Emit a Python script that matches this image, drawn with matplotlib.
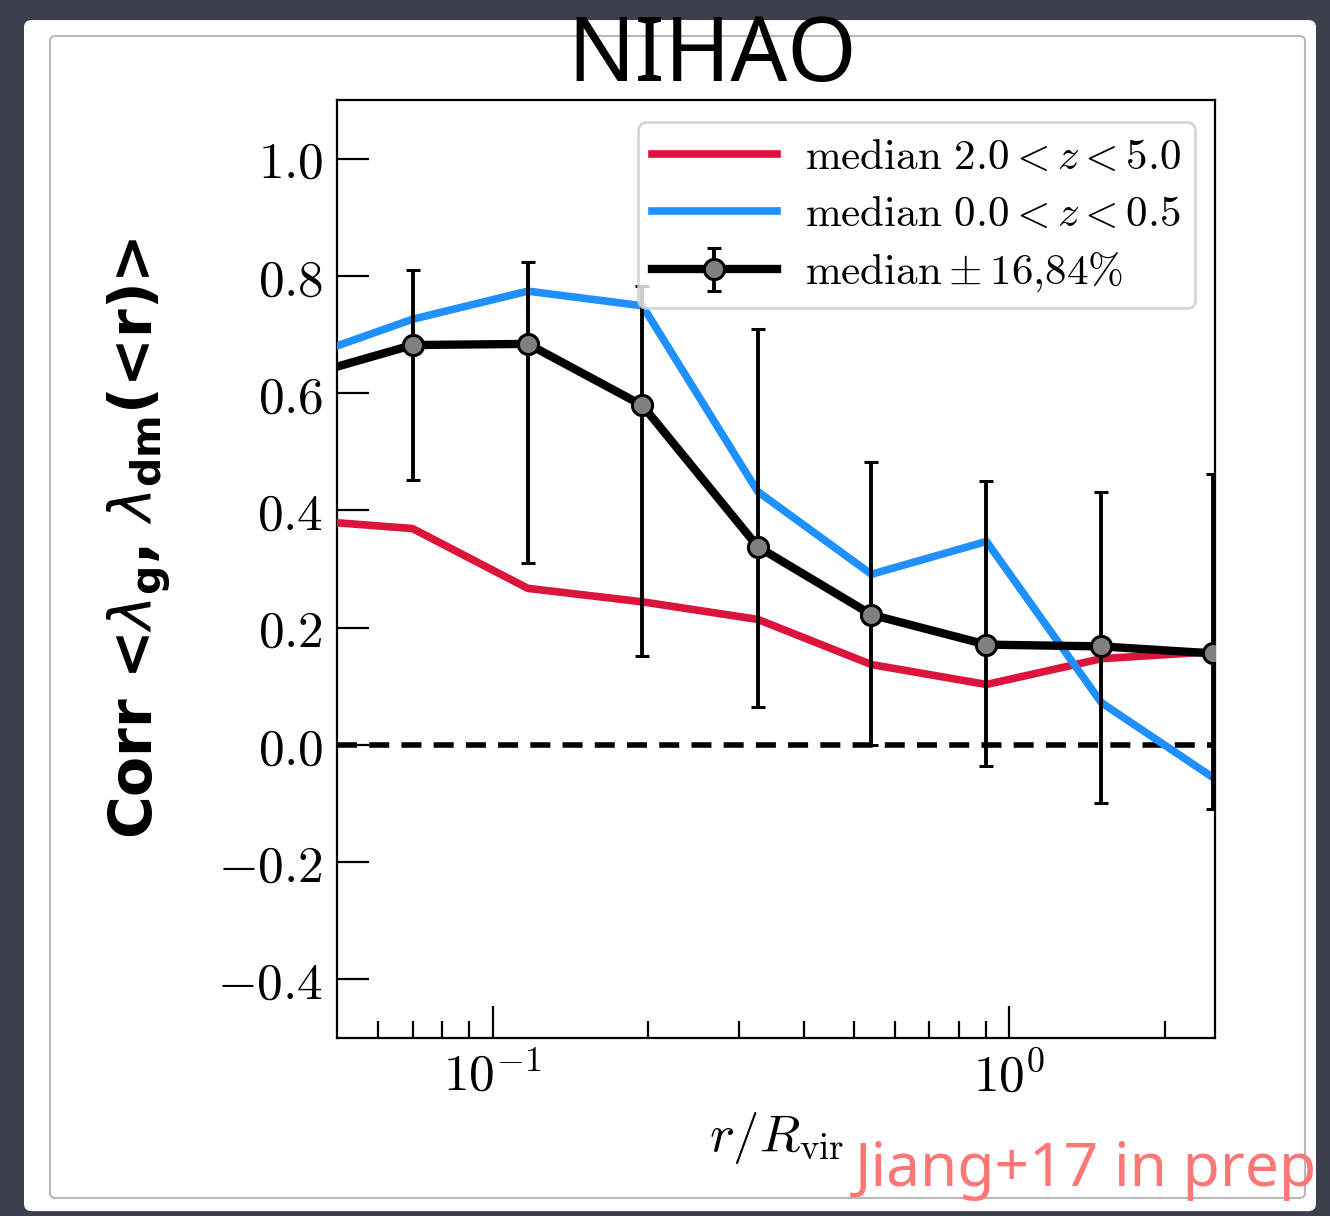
import math

import matplotlib
matplotlib.use("Agg")
import matplotlib.pyplot as plt
from matplotlib.patches import FancyBboxPatch
from matplotlib.ticker import FixedLocator, FuncFormatter, NullFormatter

plt.rcParams["mathtext.fontset"] = "cm"
plt.rcParams["font.family"] = ["DejaVu Sans"]

# ---------------------------------------------------------------------------
# data (first bin sits just left of the axis)
# ---------------------------------------------------------------------------
r_bins = [0.042, 0.070, 0.117, 0.195, 0.326, 0.541, 0.903, 1.507, 2.48]

corr_hiz = [0.384, 0.369, 0.267, 0.244, 0.214, 0.137, 0.103, 0.147, 0.159]
corr_lowz = [0.657, 0.726, 0.774, 0.749, 0.432, 0.291, 0.347, 0.072, -0.056]

corr_med = [0.626, 0.682, 0.684, 0.579, 0.338, 0.222, 0.171, 0.168, 0.156]
corr_p84 = [0.80, 0.810, 0.824, 0.783, 0.709, 0.482, 0.450, 0.432, 0.462]
corr_p16 = [0.40, 0.451, 0.311, 0.152, 0.065, 0.000, -0.036, -0.099, -0.109]

y_ticks = [-0.4, -0.2, 0.0, 0.2, 0.4, 0.6, 0.8, 1.0]
x_major = [0.1, 1.0]
x_minor = [0.06, 0.07, 0.08, 0.09, 0.2, 0.3, 0.4, 0.5, 0.6, 0.7, 0.8, 0.9, 2.0]

W, H = 1330, 1216
fig = plt.figure(figsize=(W / 100, H / 100), dpi=100)
fig.patch.set_facecolor("#3c404c")

# torn-paper backdrop
paper = FancyBboxPatch((24 / W, 0.004), 1292 / W, 1 - 0.004 - 20 / H,
                       boxstyle="round,pad=0,rounding_size=0.006",
                       transform=fig.transFigure, facecolor="white",
                       edgecolor="none", zorder=-10)
fig.patches.append(paper)
inner = FancyBboxPatch((50 / W, 1 - 1198 / H), 1255 / W, (1198 - 36) / H,
                       boxstyle="round,pad=0,rounding_size=0.004",
                       transform=fig.transFigure, facecolor="none",
                       edgecolor="#b8b8b8", lw=1.5, zorder=-9)
fig.patches.append(inner)

ax = fig.add_axes([337 / W, 1 - 1038 / H, 878 / W, 938 / H])
ax.set_facecolor("white")

ax.plot(r_bins, corr_hiz, color="#DC143C", lw=5.5,
        label=r"$\mathrm{median}\ 2.0<z<5.0$", zorder=3)
ax.plot(r_bins, corr_lowz, color="#1E90FF", lw=5.5,
        label=r"$\mathrm{median}\ 0.0<z<0.5$", zorder=3)

err_lo = [m - lo for m, lo in zip(corr_med, corr_p16)]
err_hi = [hi - m for m, hi in zip(corr_med, corr_p84)]
ax.errorbar(r_bins, corr_med, yerr=[err_lo, err_hi], color="black", lw=6,
            elinewidth=2.8, capsize=4.8, capthick=2.8, marker="o", ms=14.5,
            mfc="#808080", mec="black", mew=2.2,
            label=r"$\mathrm{median}\pm16{,}84\%$", zorder=4)

ax.axhline(0.0, color="black", lw=4, ls=(0, (3.6, 2.2)), zorder=2)

ax.set_xscale("log")
ax.set_xlim(0.05, 2.5)
ax.set_ylim(-0.5, 1.1)

ax.xaxis.set_major_locator(FixedLocator(x_major))
ax.xaxis.set_minor_locator(FixedLocator(x_minor))
ax.xaxis.set_major_formatter(FuncFormatter(lambda v, _: r"$10^{%d}$" % round(math.log10(v))))
ax.xaxis.set_minor_formatter(NullFormatter())
ax.yaxis.set_major_locator(FixedLocator(y_ticks))
ax.yaxis.set_major_formatter(FuncFormatter(lambda v, _: r"$%.1f$" % (0.0 if abs(v) < 1e-9 else v)))

ax.tick_params(which="both", direction="in", top=False, right=False, width=1.6)
ax.tick_params(which="major", length=23, labelsize=37, pad=10)
ax.tick_params(which="minor", length=12)
for s in ax.spines.values():
    s.set_linewidth(1.6)

leg = ax.legend(loc="upper right", fontsize=31, handlelength=2.9,
                labelspacing=0.36, borderpad=0.32, handletextpad=0.65,
                borderaxespad=0, frameon=True, fancybox=True, framealpha=0.8,
                edgecolor="#cccccc", bbox_to_anchor=(0.977, 0.9765))
leg.get_frame().set_linewidth(2)

fig.text(712 / W, 1 - 58 / H, "NIHAO", ha="center", va="center",
         fontsize=64, family="Noto Sans")
fig.text(777 / W, 1 - 1138 / H, r"$r/R_{\rm vir}$", ha="center",
         va="center", fontsize=38)
fig.text(140 / W, 1 - 538 / H,
         r"Corr <$\lambda_{\mathbf{g}}$, $\lambda_{\mathbf{dm}}$(<r)>",
         rotation=90, ha="center", va="center", fontsize=42,
         fontweight="bold", math_fontfamily="dejavusans")
fig.text(855 / W, 1 - 1186 / H, "Jiang+17 in prep", ha="left",
         va="baseline", fontsize=43.5, color="#FF7676", family="Noto Sans")

fig.savefig("out.png", dpi=100, facecolor=fig.get_facecolor())
